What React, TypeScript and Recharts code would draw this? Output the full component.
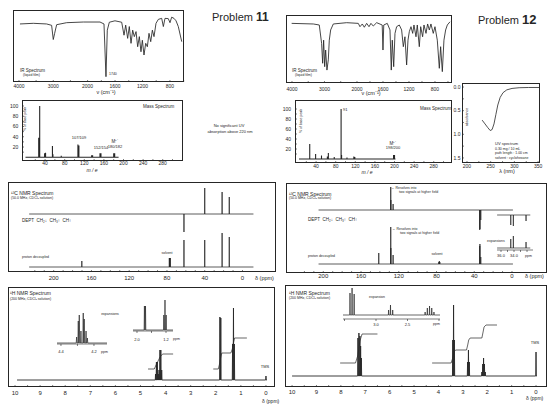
import React from 'react';
import { LineChart, Line, XAxis, YAxis } from 'recharts';

const FONT = '"Liberation Sans", Arial, Helvetica, sans-serif';
const INK = '#262626';

/* ================= DATA ================= */
// IR
const IR_TICKS = [4000, 3500, 3000, 2500, 2000, 1800, 1600, 1400, 1200, 1000, 800, 600];
const IR_TICK_LABELS = [4000, 3000, 2000, 1600, 1200, 800];
const IR11_WAVENUMBER = [3971, 3582, 3194, 3048, 3000, 2960, 2902, 2610, 2124, 1819, 1761, 1732, 1713, 1683, 1601, 1503, 1469, 1445, 1416, 1392, 1367, 1343, 1319, 1294, 1270, 1246, 1222, 1202, 1178, 1153, 1129, 1105, 1080, 1056, 1032, 1003, 969, 920, 896, 872, 824, 799, 775, 741, 711, 678, 628];
const IR11_T = [80.6, 81.5, 80.6, 78.7, 59, 67.6, 79.6, 82.4, 83.3, 83.3, 80.6, 7.4, 72, 83, 85, 83, 65, 79, 60.6, 77, 53.7, 72, 63, 70, 49, 63, 42, 58, 37.5, 53.7, 49, 67.6, 56, 72, 63, 81.5, 87, 88.4, 77, 88.4, 88, 82.4, 90, 88.4, 85, 77, 56];
const IR12_WAVENUMBER = [4010, 3344, 3160, 3088, 3056, 3026, 2994, 2964, 2924, 2882, 2852, 2810, 2728, 2318, 1980, 1954, 1918, 1887, 1851, 1815, 1785, 1749, 1697, 1612, 1600, 1588, 1534, 1492, 1472, 1457, 1435, 1415, 1390, 1349, 1313, 1287, 1262, 1236, 1215, 1195, 1169, 1143, 1123, 1092, 1072, 1041, 1020, 990, 969, 938, 913, 887, 862, 826, 800, 764, 733, 713, 687, 662, 636, 610, 569];
const IR12_T = [87.7, 86.8, 85.3, 58.3, 29, 63, 24, 48.5, 19, 34, 63, 78, 86.8, 88.7, 87.7, 82.8, 86.8, 82, 87.7, 82.8, 87.7, 83.8, 88.7, 85.3, 48.5, 85.3, 87.7, 78, 19, 63, 24, 73, 82.8, 85.3, 78, 53.4, 68, 26.5, 63, 75.5, 82.8, 73, 85.3, 68, 85.3, 53.4, 82.8, 68, 85.3, 73, 86.8, 78, 86.8, 73, 82.8, 63, 21.6, 53.4, 16.7, 63, 78, 85.3, 90];

// Mass spectra
const MS_TICKS = [20, 40, 60, 80, 100, 120, 140, 160, 180, 200, 220, 240, 260, 280, 300];
const MS_LABELS = [40, 80, 120, 160, 200, 240, 280];
const MS_Y_TICKS = [10, 20, 30, 40, 50, 60, 70, 80, 90, 100];
const MS_Y_LABELS = [20, 40, 60, 80, 100];
const MS11_MZ = [27, 28, 29, 39, 41, 55, 56, 73, 107, 109, 135, 137, 152, 154, 180, 182];
const MS11_PCT = [38, 20, 100, 8, 9, 22, 6, 3, 25, 23, 4, 4, 8, 8, 8, 8];
const MS12_MZ = [27, 39, 51, 63, 65, 77, 91, 92, 103, 117, 119, 198, 200];
const MS12_PCT = [30, 10, 7, 5, 12, 4, 100, 8, 3, 5, 4, 8, 8];

// UV
const UV_NM = [232, 238, 244, 249, 253, 257, 261, 265, 270, 276, 284, 295, 310, 330, 352];
const UV_A = [0.7, 0.78, 0.86, 0.92, 0.9, 0.78, 0.58, 0.38, 0.22, 0.12, 0.06, 0.03, 0.015, 0.01, 0.01];
const UV_X_TICKS = [200, 225, 250, 275, 300, 325, 350];
const UV_X_LABELS = [200, 250, 300, 350];
const UV_Y_TICKS = [0, 0.25, 0.5, 0.75, 1, 1.25, 1.5];
const UV_Y_LABELS = [0, 0.5, 1, 1.5];

// 13C
const C13_TICKS = [220, 210, 200, 190, 180, 170, 160, 150, 140, 130, 120, 110, 100, 90, 80, 70, 60, 50, 40, 30, 20, 10, 0];
const C13_TOP_TICKS = [220, 200, 180, 160, 140, 120, 100, 80, 60, 40, 20, 0];
const C13_LABELS = [200, 160, 120, 80, 40, 0];
const C13_11_DEPT_PPM = [62.0, 40.0, 21.6, 14.0];
const C13_11_DEPT_INT = [-18, 26, 22, 17];
const C13_11_DEC_PPM = [170.2, 77.5, 77.0, 76.5, 62.0, 40.0, 21.6, 14.0];
const C13_11_DEC_INT = [6, 9, 9, 9, 27, 27, 34, 30];
const C13_12_DEPT_PPM = [128.5, 128.4, 126.0, 34.2, 34.0, 33.1];
const C13_12_DEPT_INT = [23, 10, 6, -20, -19, -10];
const C13_12_DEC_PPM = [141.2, 128.5, 128.4, 126.0, 77.5, 77.0, 76.5, 34.2, 34.0, 33.1];
const C13_12_DEC_INT = [11, 37, 16, 9, 2, 3, 2, 18, 20, 7];
const C13_12_INSET_PPM = [34.5, 34.1, 32.15];
const C13_12_INSET_DEPT_INT = [-10, -11, -6];
const C13_12_INSET_DEC_INT = [9, 12, 6];
const C13_INSET_TICKS = [36, 35, 34, 33, 32];
const C13_INSET_LABELS = ['36.0', '', '34.0', '', ''];

// 1H
const H1_TICKS = [10, 9.5, 9, 8.5, 8, 7.5, 7, 6.5, 6, 5.5, 5, 4.5, 4, 3.5, 3, 2.5, 2, 1.5, 1, 0.5, 0];
const H1_LABELS = [10, 9, 8, 7, 6, 5, 4, 3, 2, 1, 0];
const H1_11_PPM = [4.4, 4.365, 4.33, 4.295, 4.26, 4.225, 4.19, 4.155, 1.835, 1.8, 1.33, 1.295, 1.26, 0.0];
const H1_11_INT = [6, 18, 18, 6, 10, 30, 30, 10, 63, 62, 36, 72, 36, 4];
const H1_11_INTEG1_PPM = [4.7, 4.45, 4.38, 4.3, 4.22, 4.12, 3.7];
const H1_11_INTEG1_H = [18, 18, 22, 26, 30, 33, 33];
const H1_11_INTEG2_PPM = [2.1, 1.9, 1.84, 1.8, 1.76, 1.4, 1.34, 1.3, 1.25, 0.76];
const H1_11_INTEG2_H = [18, 18, 24, 30, 34, 34, 38, 44, 49, 49];
const H1_11_INSA_PPM = [4.305, 4.295, 4.289, 4.279, 4.265, 4.259, 4.248, 4.24];
const H1_11_INSA_INT = [6, 22, 28, 12, 30, 24, 12, 5];
const H1_11_INSA_TICKS = [4.4, 4.3, 4.2];
const H1_11_INSA_LABELS = ['4.4', '', '4.2'];
const H1_11_INSB_PPM = [1.795, 1.765, 1.26, 1.228, 1.196];
const H1_11_INSB_INT = [24, 24, 15, 30, 15];
const H1_11_INSB_TICKS = [2.0, 1.6, 1.2];
const H1_11_INSB_LABELS = ['2.0', '', '1.2'];

const H1_12_PPM = [7.3, 7.26, 7.22, 7.19, 7.16, 3.413, 3.38, 3.347, 2.805, 2.77, 2.735, 2.22, 2.185, 2.15, 2.115, 2.08, 0.0];
const H1_12_INT = [38, 43, 40, 30, 18, 36, 71, 36, 14, 26, 14, 4, 12, 18, 12, 4, 24];
const H1_12_INTEG1_PPM = [8.03, 7.4, 7.3, 7.22, 7.13, 6.5];
const H1_12_INTEG1_H = [24, 24, 32, 46, 53, 53];
const H1_12_INTEG2_PPM = [4.26, 3.48, 3.4, 3.36, 3.3, 2.85, 2.8, 2.76, 2.7, 2.22, 2.17, 2.13, 2.05, 1.6];
const H1_12_INTEG2_H = [24, 24, 30, 35, 37, 37, 42, 47, 49, 49, 55, 60, 62, 62];
const H1_12_INS_PPM = [3.413, 3.38, 3.347, 2.8, 2.77, 2.735, 2.22, 2.185, 2.15, 2.115, 2.08];
const H1_12_INS_INT = [22, 27, 21, 5, 10, 5, 3, 7, 9, 7, 3];
const H1_12_INS_TICKS = [3.5, 3.0, 2.5, 2.0];
const H1_12_INS_LABELS = ['', '3.0', '2.5', ''];

/* ================= HELPERS ================= */
type Pt = { x: number; y: number };
type Box = { x: number; y: number; w: number; h: number };

const irU = (w: number) => (w >= 2000 ? (4000 - w) / 2 : 1000 + (2000 - w));
const irW = (u: number) => (u <= 1000 ? 4000 - 2 * u : 2000 - (u - 1000));

function zip(xs: number[], ys: number[], base = 0): Pt[] {
  return xs.map((x, i) => ({ x, y: base + ys[i] }));
}

function sticks(pos: number[], amp: number[], from: number, to: number, base: number, hw = 0): Pt[] {
  const desc = from > to;
  const d = desc ? -1 : 1;
  const order = pos.map((_, i) => i).sort((a, b) => (desc ? pos[b] - pos[a] : pos[a] - pos[b]));
  const pts: Pt[] = [{ x: from, y: base }];
  order.forEach((i) => {
    pts.push({ x: pos[i] - d * hw, y: base }, { x: pos[i], y: base + amp[i] }, { x: pos[i] + d * hw, y: base });
  });
  pts.push({ x: to, y: base });
  return pts;
}

function frame(box: Box, p: { l: number; r: number; t: number; b: number; xh?: number; yw?: number }) {
  const xh = p.xh ?? 0;
  const yw = p.yw ?? 0;
  return {
    style: { position: 'absolute' as const, left: box.x - p.l, top: box.y - p.t },
    width: box.w + p.l + p.r,
    height: box.h + p.t + p.b,
    margin: { top: p.t, right: p.r, bottom: p.b - xh, left: p.l - yw },
  };
}

const LP = { dot: false, activeDot: false, isAnimationActive: false, type: 'linear' as const, dataKey: 'y' };

function Txt({ x, y, s = 5, a = 'start', rot = 0, bold = false, italic = false, family = FONT, children }: any) {
  const tx = a === 'middle' ? '-50%' : a === 'end' ? '-100%' : '0%';
  return (
    <div
      style={{
        position: 'absolute', left: x, top: y, fontSize: s, lineHeight: 1, fontFamily: family, color: INK,
        whiteSpace: 'nowrap', fontWeight: bold ? 700 : 400, fontStyle: italic ? 'italic' : 'normal',
        transform: `translate(${tx}, -50%)${rot ? ` rotate(${rot}deg)` : ''}`,
      }}
    >
      {children}
    </div>
  );
}

function Frame({ box }: { box: Box }) {
  return (
    <div style={{ position: 'absolute', left: box.x, top: box.y, width: box.w, height: box.h, border: `1px solid ${INK}`, boxSizing: 'border-box' }} />
  );
}

/* ================= PANELS ================= */
function IRPanel({ box, wn, tr, domain, tm }: any) {
  const f = frame(box, { l: 2, r: 2, t: 2, b: 12, xh: 12 });
  const data = wn.map((w: number, i: number) => ({ x: irU(w), y: tr[i] }));
  return (
    <div style={f.style}>
      <LineChart width={f.width} height={f.height} margin={f.margin}>
        <XAxis type="number" dataKey="x" domain={domain} allowDataOverflow ticks={IR_TICKS.map(irU)} interval={0}
          tickFormatter={(u: number) => { const w = Math.round(irW(u)); return IR_TICK_LABELS.includes(w) ? String(w) : ''; }}
          tickSize={-2} tickMargin={tm} axisLine={false} tickLine={{ stroke: INK, strokeWidth: 0.6 }} height={12}
          tick={{ fontSize: 5, fill: INK, fontFamily: FONT }} />
        <YAxis type="number" domain={[0, 100]} hide allowDataOverflow />
        <Line {...LP} data={data} stroke={INK} strokeWidth={0.85} />
      </LineChart>
    </div>
  );
}

function MSPanel({ box, mz, pct, xDomain, yDomain, xtm, ytm, from, to }: any) {
  const f = frame(box, { l: 16, r: 2, t: 2, b: 12, xh: 12, yw: 16 });
  return (
    <div style={f.style}>
      <LineChart width={f.width} height={f.height} margin={f.margin}>
        <XAxis type="number" dataKey="x" domain={xDomain} allowDataOverflow ticks={MS_TICKS} interval={0}
          tickFormatter={(v: number) => (MS_LABELS.includes(v) ? String(v) : '')}
          tickSize={-2} tickMargin={xtm} axisLine={false} tickLine={{ stroke: INK, strokeWidth: 0.6 }} height={12}
          tick={{ fontSize: 5, fill: INK, fontFamily: FONT }} />
        <YAxis type="number" domain={yDomain} allowDataOverflow ticks={MS_Y_TICKS} interval={0} width={16}
          tickFormatter={(v: number) => (MS_Y_LABELS.includes(v) ? String(v) : '')}
          tickSize={-2} tickMargin={ytm} axisLine={false} tickLine={{ stroke: INK, strokeWidth: 0.6 }}
          tick={{ fontSize: 5, fill: INK, fontFamily: FONT }} />
        <Line {...LP} data={sticks(mz, pct, from, to, 0)} stroke={INK} strokeWidth={1.1} />
      </LineChart>
    </div>
  );
}

function UVPanel({ box }: any) {
  const f = frame(box, { l: 12, r: 3, t: 3, b: 12, xh: 12, yw: 12 });
  return (
    <div style={f.style}>
      <LineChart width={f.width} height={f.height} margin={f.margin}>
        <XAxis type="number" dataKey="x" domain={[189.5, 354]} allowDataOverflow ticks={UV_X_TICKS} interval={0}
          tickFormatter={(v: number) => (UV_X_LABELS.includes(v) ? String(v) : '')}
          tickSize={-2} tickMargin={3.2} axisLine={false} tickLine={{ stroke: INK, strokeWidth: 0.6 }} height={12}
          tick={{ fontSize: 5, fill: INK, fontFamily: FONT }} />
        <YAxis type="number" reversed domain={[-0.085, 1.607]} allowDataOverflow ticks={UV_Y_TICKS} interval={0} width={12}
          tickFormatter={(v: number) => (UV_Y_LABELS.includes(v) ? v.toFixed(1) : '')}
          tickSize={-2} tickMargin={3.5} axisLine={false} tickLine={{ stroke: INK, strokeWidth: 0.6 }}
          tick={{ fontSize: 5, fill: INK, fontFamily: FONT }} />
        <Line {...LP} data={zip(UV_NM, UV_A)} stroke={INK} strokeWidth={0.8} />
      </LineChart>
    </div>
  );
}

function NmrPanel({ box, domain, ticks, labels, tm, yMax, series, topTicks }: any) {
  const f = frame(box, { l: 2, r: 2, t: 2, b: 14, xh: 14 });
  return (
    <div style={f.style}>
      <LineChart width={f.width} height={f.height} margin={f.margin}>
        <XAxis type="number" dataKey="x" domain={domain} allowDataOverflow reversed ticks={ticks} interval={0}
          tickFormatter={(v: number) => (labels.includes(v) ? String(v) : '')}
          tickSize={-2} tickMargin={tm} axisLine={false} tickLine={{ stroke: INK, strokeWidth: 0.6 }} height={14}
          tick={{ fontSize: 6, fill: INK, fontFamily: FONT }} />
        {topTicks && (
          <XAxis xAxisId="top" orientation="top" type="number" dataKey="x" domain={domain} allowDataOverflow reversed
            ticks={topTicks} interval={0} tickFormatter={() => ''} tickSize={-2} axisLine={false} height={0}
            tickLine={{ stroke: INK, strokeWidth: 0.6 }} tick={{ fontSize: 1 }} />
        )}
        <YAxis type="number" domain={[0, yMax]} hide allowDataOverflow />
        {topTicks && (
          <Line {...LP} xAxisId="top" data={[{ x: domain[0], y: -20 }, { x: domain[1], y: -20 }]} stroke="none" />
        )}
        {series.map((s: any, i: number) => (
          <Line key={i} {...LP} data={s.data} stroke={INK} strokeWidth={s.w ?? 0.75} />
        ))}
      </LineChart>
    </div>
  );
}

function Inset({ box, domain, ticks, labels, yMax, series, axis = true, tm = 2 }: any) {
  const f = frame(box, { l: 4, r: 4, t: 1, b: 10, xh: axis ? 10 : 0 });
  return (
    <div style={f.style}>
      <LineChart width={f.width} height={f.height} margin={f.margin}>
        <XAxis type="number" dataKey="x" domain={domain} allowDataOverflow reversed hide={!axis}
          ticks={ticks} interval={0}
          tickFormatter={(v: number) => (ticks ? labels[ticks.indexOf(v)] ?? '' : '')}
          tickSize={2} tickMargin={tm} axisLine={{ stroke: INK, strokeWidth: 0.6 }} tickLine={{ stroke: INK, strokeWidth: 0.6 }} height={10}
          tick={{ fontSize: 4, fill: INK, fontFamily: FONT }} />
        <YAxis type="number" domain={[0, yMax]} hide allowDataOverflow />
        {series.map((s: any, i: number) => (
          <Line key={i} {...LP} data={s.data} stroke={INK} strokeWidth={s.w ?? 0.7} />
        ))}
      </LineChart>
    </div>
  );
}

/* ================= LAYOUT ================= */
const B = {
  ir11: { x: 13, y: 10, w: 171, h: 72 },
  ms11: { x: 22, y: 100, w: 161, h: 61 },
  c11: { x: 8, y: 182, w: 268, h: 90 },
  h11: { x: 8, y: 287, w: 267, h: 100 },
  ir12: { x: 286, y: 15, w: 166, h: 68 },
  ms12: { x: 295, y: 100, w: 157, h: 63 },
  uv: { x: 462, y: 83, w: 78, h: 80 },
  c12: { x: 286, y: 183, w: 261, h: 90 },
  h12: { x: 285, y: 285, w: 262, h: 102 },
};

export default function App() {
  const DEPT = (
    <>DEPT&nbsp;&nbsp;CH₂↓&nbsp;&nbsp;CH₃↑&nbsp;&nbsp;CH↑</>
  );
  return (
    <div style={{ position: 'absolute', left: 0, top: 0, width: 560, height: 405, background: '#fff', overflow: 'hidden' }}>
      {Object.values(B).map((b, i) => <Frame key={i} box={b} />)}

      {/* ---------- Problem 11 ---------- */}
      <IRPanel box={B.ir11} wn={IR11_WAVENUMBER} tr={IR11_T} domain={[-87, 2405]} tm={4.9} />
      <MSPanel box={B.ms11} mz={MS11_MZ} pct={MS11_PCT} xDomain={[-7.1, 321.4]} yDomain={[-7.3, 111.7]} xtm={2.7} ytm={5.7} from={0} to={190} />
      <NmrPanel box={B.c11} domain={[-35.5, 248.4]} ticks={C13_TICKS} labels={C13_LABELS} tm={6.1} yMax={90} topTicks={C13_TOP_TICKS}
        series={[
          { data: sticks(C13_11_DEPT_PPM, C13_11_DEPT_INT, 226, -11.6, 58) },
          { data: sticks(C13_11_DEC_PPM, C13_11_DEC_INT, 226, -11.6, 5) },
        ]} />
      <NmrPanel box={B.h11} domain={[-0.36, 10.28]} ticks={H1_TICKS} labels={H1_LABELS} tm={6.1} yMax={100}
        series={[
          { data: sticks(H1_11_PPM, H1_11_INT, 9.92, -0.04, 7, 0.012), w: 0.9 },
          { data: zip(H1_11_INTEG1_PPM, H1_11_INTEG1_H), w: 0.7 },
          { data: zip(H1_11_INTEG2_PPM, H1_11_INTEG2_H), w: 0.7 },
        ]} />
      <Inset box={{ x: 57, y: 305, w: 50, h: 39 }} domain={[4.121, 4.424]} ticks={H1_11_INSA_TICKS} labels={H1_11_INSA_LABELS} yMax={39} tm={4.5}
        series={[{ data: sticks(H1_11_INSA_PPM, H1_11_INSA_INT, 4.424, 4.121, 1, 0.0025) }]} />
      <Inset box={{ x: 133, y: 295, w: 40, h: 36 }} domain={[1.007, 2.11]} ticks={H1_11_INSB_TICKS} labels={H1_11_INSB_LABELS} yMax={36} tm={5}
        series={[{ data: sticks(H1_11_INSB_PPM, H1_11_INSB_INT, 2.11, 1.007, 1, 0.008) }]} />

      <Txt x={212} y={17} s={11}>Problem <span style={{ fontWeight: 700, fontSize: 12 }}>11</span></Txt>
      <Txt x={20} y={71} s={4.5}>IR Spectrum</Txt>
      <Txt x={23} y={75.5} s={3.5}>(liquid film)</Txt>
      <Txt x={109} y={75} s={3.5}>1740</Txt>
      <Txt x={106} y={92.5} s={5.5} a="middle">ν (cm⁻¹)</Txt>
      <Txt x={143} y={107} s={4.5}>Mass Spectrum</Txt>
      <Txt x={26} y={119} s={3.5} a="middle" rot={-90}>% of base peak</Txt>
      <Txt x={79} y={138} s={4} a="middle">107/109</Txt>
      <Txt x={101} y={148} s={4} a="middle">152/154</Txt>
      <Txt x={115} y={142} s={4.5} a="middle">M⁺˙</Txt>
      <Txt x={115} y={146.5} s={4} a="middle">180/182</Txt>
      <Txt x={92} y={169.5} s={5} a="middle" italic>m / e</Txt>
      <Txt x={229} y={126} s={4} a="middle">No significant UV</Txt>
      <Txt x={230} y={132} s={4} a="middle">absorption above 220 nm</Txt>
      <Txt x={11} y={193} s={5}>¹³C NMR Spectrum</Txt>
      <Txt x={11} y={198.5} s={3.5}>(50.0 MHz, CDCl₃ solution)</Txt>
      <Txt x={22} y={221} s={4.5}>{DEPT}</Txt>
      <Txt x={167} y={253.5} s={3.5} a="middle">solvent</Txt>
      <Txt x={22} y={258} s={3.5}>proton decoupled</Txt>
      <Txt x={255} y={278.5} s={5.5}>δ (ppm)</Txt>
      <Txt x={10} y={293} s={5}>¹H NMR Spectrum</Txt>
      <Txt x={10} y={299.5} s={3.5}>(200 MHz, CDCl₃ solution)</Txt>
      <Txt x={110} y={315} s={3.5} a="middle">expansions</Txt>
      <Txt x={101} y={352.5} s={3.5}>ppm</Txt>
      <Txt x={173} y={340} s={3.5}>ppm</Txt>
      <Txt x={265} y={367} s={4} a="middle">TMS</Txt>
      <Txt x={262} y={400.5} s={5}>δ (ppm)</Txt>

      {/* ---------- Problem 12 ---------- */}
      <IRPanel box={B.ir12} wn={IR12_WAVENUMBER} tr={IR12_T} domain={[-92, 2462]} tm={6.5} />
      <MSPanel box={B.ms12} mz={MS12_MZ} pct={MS12_PCT} xDomain={[-3.06, 317.3]} yDomain={[-8, 118]} xtm={3.2} ytm={6} from={5} to={202} />
      <UVPanel box={B.uv} />
      <NmrPanel box={B.c12} domain={[-37.1, 239.5]} ticks={C13_TICKS} labels={C13_LABELS} tm={2.5} yMax={90} topTicks={C13_TOP_TICKS}
        series={[
          { data: sticks(C13_12_DEPT_PPM, C13_12_DEPT_INT, 205, -1, 63) },
          { data: sticks(C13_12_DEC_PPM, C13_12_DEC_INT, 205, -1, 9) },
        ]} />
      <Inset box={{ x: 497, y: 203, w: 36, h: 25 }} domain={[31.08, 36.615]} axis={false} yMax={25}
        series={[{ data: sticks(C13_12_INSET_PPM, C13_12_INSET_DEPT_INT, 36.6, 31.5, 13) }]} />
      <Inset box={{ x: 497, y: 230, w: 36, h: 20 }} domain={[31.08, 36.615]} ticks={C13_INSET_TICKS} labels={C13_INSET_LABELS} yMax={20} tm={2.5}
        series={[{ data: sticks(C13_12_INSET_PPM, C13_12_INSET_DEC_INT, 36.6, 31.5, 2) }]} />
      <NmrPanel box={B.h12} domain={[-0.45, 10.29]} ticks={H1_TICKS} labels={H1_LABELS} tm={4.5} yMax={102}
        series={[
          { data: sticks(H1_12_PPM, H1_12_INT, 10.0, -0.04, 11, 0.012), w: 0.9 },
          { data: zip(H1_12_INTEG1_PPM, H1_12_INTEG1_H), w: 0.7 },
          { data: zip(H1_12_INTEG2_PPM, H1_12_INTEG2_H), w: 0.7 },
        ]} />
      <Inset box={{ x: 343, y: 285, w: 97, h: 34 }} domain={[1.984, 3.524]} ticks={H1_12_INS_TICKS} labels={H1_12_INS_LABELS} yMax={34} tm={2}
        series={[{ data: sticks(H1_12_INS_PPM, H1_12_INS_INT, 3.524, 1.984, 4, 0.004) }]} />

      <Txt x={478} y={18.5} s={11}>Problem <span style={{ fontWeight: 700, fontSize: 13 }}>12</span></Txt>
      <Txt x={292} y={71} s={4.5}>IR Spectrum</Txt>
      <Txt x={295} y={75.5} s={3.5}>(liquid film)</Txt>
      <Txt x={371} y={94} s={5.5} a="middle">ν (cm⁻¹)</Txt>
      <Txt x={420} y={109} s={4.5}>Mass Spectrum</Txt>
      <Txt x={302} y={121} s={3.5} a="middle" rot={-90}>% of base peak</Txt>
      <Txt x={343} y={110} s={4}>91</Txt>
      <Txt x={393} y={143.5} s={4.5} a="middle">M⁺˙</Txt>
      <Txt x={393} y={148} s={4} a="middle">198/200</Txt>
      <Txt x={367} y={172} s={5} a="middle" italic>m / e</Txt>
      <Txt x={468} y={117} s={3.5} a="middle" rot={-90}>absorbance</Txt>
      <Txt x={495} y={144} s={4}>UV spectrum</Txt>
      <Txt x={495} y={149.5} s={3.5}>0.30 mg / 10 mL</Txt>
      <Txt x={495} y={154} s={3.5}>path length : 1.00 cm</Txt>
      <Txt x={495} y={158.5} s={3.5}>solvent : cyclohexane</Txt>
      <Txt x={507} y={171.5} s={5.5} a="middle">λ (nm)</Txt>
      <Txt x={289} y={194} s={5}>¹³C NMR Spectrum</Txt>
      <Txt x={289} y={198.5} s={3.5}>(50.0 MHz, CDCl₃ solution)</Txt>
      <Txt x={391} y={189} s={3.5}>← Resolves into</Txt>
      <Txt x={399} y={193} s={3.5}>two signals at higher field</Txt>
      <Txt x={308} y={220} s={4.5}>{DEPT}</Txt>
      <Txt x={392} y={230} s={3.5}>← Resolves into</Txt>
      <Txt x={400} y={234} s={3.5}>two signals at higher field</Txt>
      <Txt x={487} y={242} s={3.5}>expansions</Txt>
      <Txt x={308} y={257} s={3.5}>proton decoupled</Txt>
      <Txt x={437} y={255} s={3.5} a="middle">solvent</Txt>
      <Txt x={525} y={256.5} s={3.5}>ppm</Txt>
      <Txt x={525} y={277} s={5.5}>δ (ppm)</Txt>
      <Txt x={289} y={293} s={5}>¹H NMR Spectrum</Txt>
      <Txt x={289} y={299} s={3.5}>(200 MHz, CDCl₃ solution)</Txt>
      <Txt x={377} y={298} s={3.5} a="middle">expansion</Txt>
      <Txt x={433} y={325} s={3.5}>ppm</Txt>
      <Txt x={535} y={343} s={4} a="middle">TMS</Txt>
      <Txt x={526} y={397.5} s={5}>δ (ppm)</Txt>
    </div>
  );
}
